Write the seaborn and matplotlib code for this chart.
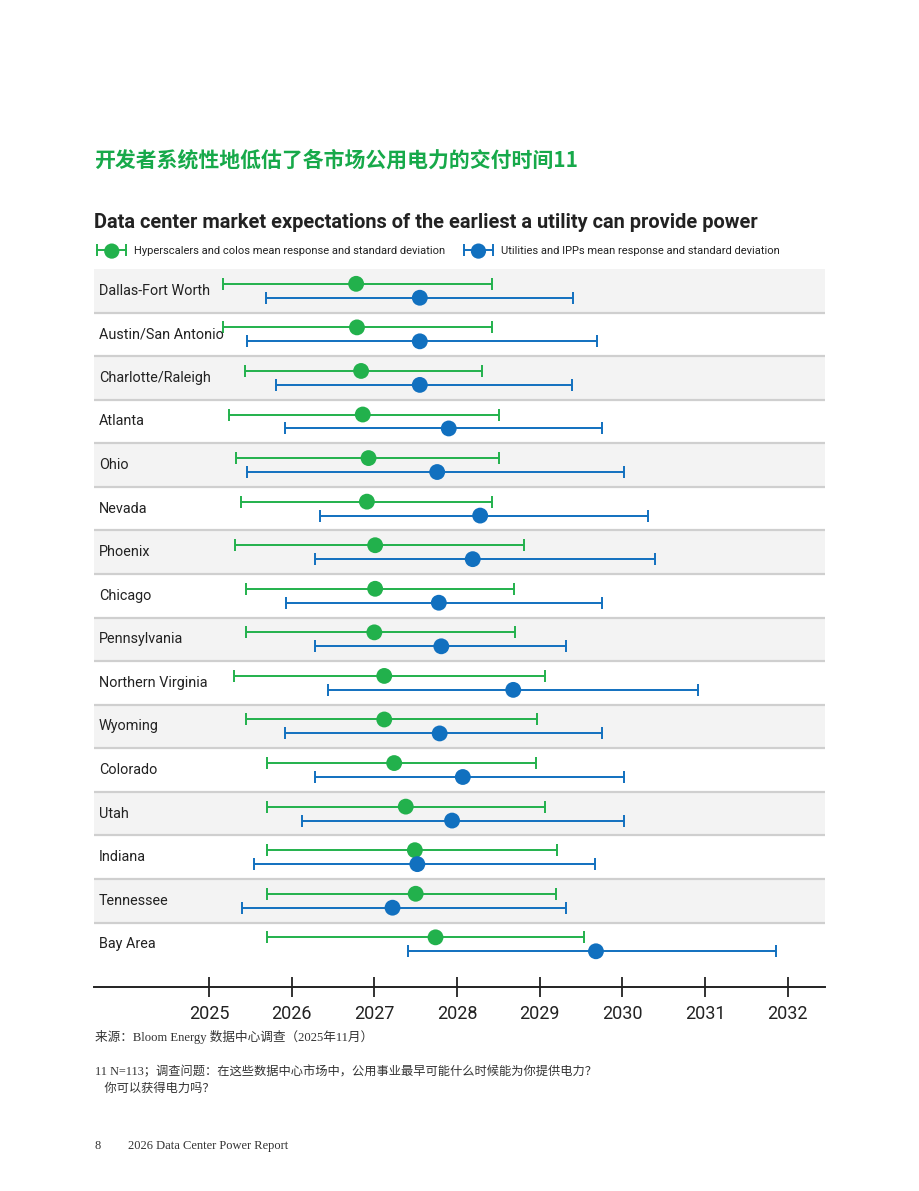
import numpy as np
import pandas as pd
import seaborn as sns
import matplotlib.pyplot as plt
from matplotlib.lines import Line2D

# Survey results: mean and +/- one standard deviation.
markets = ["Dallas-Fort Worth", "Austin/San Antonio", "Charlotte/Raleigh", "Atlanta",
           "Ohio", "Nevada", "Phoenix", "Chicago", "Pennsylvania", "Northern Virginia",
           "Wyoming", "Colorado", "Utah", "Indiana", "Tennessee", "Bay Area"]

hyper_mean = [2026.78, 2026.79, 2026.84, 2026.86, 2026.93, 2026.91, 2027.01, 2027.01,
              2027.00, 2027.12, 2027.12, 2027.24, 2027.38, 2027.49, 2027.50, 2027.74]
hyper_low = [2025.17, 2025.17, 2025.44, 2025.24, 2025.33, 2025.39, 2025.31, 2025.45,
             2025.45, 2025.30, 2025.45, 2025.70, 2025.70, 2025.70, 2025.70, 2025.70]
hyper_high = [2028.42, 2028.42, 2028.30, 2028.51, 2028.51, 2028.42, 2028.81, 2028.69,
              2028.70, 2029.06, 2028.97, 2028.95, 2029.06, 2029.21, 2029.20, 2029.53]

util_mean = [2027.55, 2027.55, 2027.55, 2027.90, 2027.76, 2028.28, 2028.19, 2027.78,
             2027.81, 2028.68, 2027.79, 2028.07, 2027.94, 2027.52, 2027.22, 2029.68]
util_low = [2025.69, 2025.46, 2025.81, 2025.92, 2025.46, 2026.34, 2026.28, 2025.93,
            2026.28, 2026.44, 2025.92, 2026.28, 2026.12, 2025.55, 2025.40, 2027.41]
util_high = [2029.40, 2029.69, 2029.39, 2029.75, 2030.02, 2030.31, 2030.39, 2029.75,
             2029.32, 2030.92, 2029.75, 2030.02, 2030.02, 2029.67, 2029.32, 2031.86]

years = [2025, 2026, 2027, 2028, 2029, 2030, 2031, 2032]

series_labels = ["Hyperscalers and colos mean response and standard deviation",
                 "Utilities and IPPs mean response and standard deviation"]

GREEN = "#22b14c"
BLUE = "#1170bf"
TITLE_GREEN = "#17a94a"

sns.set_theme(style="white")
plt.rcParams["font.family"] = ["Roboto", "Noto Sans CJK SC", "DejaVu Sans"]

fig = plt.figure(figsize=(9.2, 11.91), dpi=100)
ax = fig.add_axes([94 / 920, 1 - 987 / 1191, 731 / 920, 718 / 1191])

n = len(markets)
rows = np.arange(n)

# Alternating row bands and separators.
for i in rows:
    if i % 2 == 0:
        ax.axhspan(i - 0.5, i + 0.5, color="#f3f3f3", lw=0, zorder=0)
    if i < n - 1:
        ax.axhline(i + 0.5, color="#cfcfcf", lw=1.6, zorder=1)

df = pd.DataFrame({
    "market": markets * 2,
    "group": [series_labels[0]] * n + [series_labels[1]] * n,
    "mean": hyper_mean + util_mean,
    "low": hyper_low + util_low,
    "high": hyper_high + util_high,
    "row": list(rows - 0.16) + list(rows + 0.16),
})

handles = []
for label, color in zip(series_labels, [GREEN, BLUE]):
    sub = df[df["group"] == label]
    ax.errorbar(sub["mean"], sub["row"],
                xerr=[sub["mean"] - sub["low"], sub["high"] - sub["mean"]],
                fmt="none", ecolor=color, elinewidth=1.4, capsize=4,
                capthick=1.4, zorder=2)
    # legend handle: bar with caps at both ends plus a dot in the middle
    bar = Line2D([], [], color=color, lw=1.4, marker="|", ms=8, mew=1.4)
    dot = ax.scatter([], [], s=120, color=color, edgecolors="none")
    handles.append((bar, dot))

sns.scatterplot(data=df, x="mean", y="row", hue="group",
                palette=[GREEN, BLUE], s=130, edgecolor="none",
                legend=False, ax=ax, zorder=3)

for i, m in enumerate(markets):
    ax.text(5 / 731, i, m, transform=ax.get_yaxis_transform(),
            ha="left", va="center", fontsize=10.4, color="#222222")

ax.set_xlim(2023.61, 2032.45)
ax.set_ylim(15.98, -0.5)
ax.set_yticks([])
ax.set_xticks(years)
ax.set_xticklabels([str(y) for y in years], fontsize=13, color="#222222")
ax.tick_params(axis="x", direction="inout", length=14, width=1.3,
               color="#222222", pad=6, bottom=True)
ax.set_xlabel("")
ax.set_ylabel("")
for side in ["top", "left", "right"]:
    ax.spines[side].set_visible(False)
ax.spines["bottom"].set_color("#222222")
ax.spines["bottom"].set_linewidth(1.4)

fig.legend(handles, series_labels, loc="center left",
           bbox_to_anchor=(84 / 920, 1 - 251 / 1191), ncol=2, frameon=False,
           fontsize=8, handlelength=3.2, handletextpad=0.4, columnspacing=1.4,
           labelcolor="#222222", numpoints=2, scatterpoints=1)

fig.text(94 / 920, 1 - 160 / 1191, "开发者系统性地低估了各市场公用电力的交付时间11",
         fontsize=15, fontweight="bold", color=TITLE_GREEN, va="center",
         family=["Noto Sans CJK SC", "DejaVu Sans"])
fig.text(94 / 920, 1 - 222 / 1191,
         "Data center market expectations of the earliest a utility can provide power",
         fontsize=14.4, fontweight="bold", color="#222222", va="center")

serif = ["Liberation Serif", "Noto Sans CJK SC"]
fig.text(95 / 920, 1 - 1037 / 1191, "来源：Bloom Energy 数据中心调查（2025年11月）",
         fontsize=9.1, color="#333333", va="center", family=serif)
fig.text(95 / 920, 1 - 1072 / 1191,
         "11 N=113；调查问题：在这些数据中心市场中，公用事业最早可能什么时候能为你提供电力？",
         fontsize=8.8, color="#333333", va="center", family=serif)
fig.text(95 / 920, 1 - 1089 / 1191, "   你可以获得电力吗？",
         fontsize=8.8, color="#333333", va="center", family=serif)
fig.text(95 / 920, 1 - 1146 / 1191, "8", fontsize=9, color="#333333",
         va="center", family=serif)
fig.text(128 / 920, 1 - 1146 / 1191, "2026 Data Center Power Report", fontsize=9,
         color="#333333", va="center", family=serif)

fig.savefig("out.png", dpi=100, facecolor="white")
